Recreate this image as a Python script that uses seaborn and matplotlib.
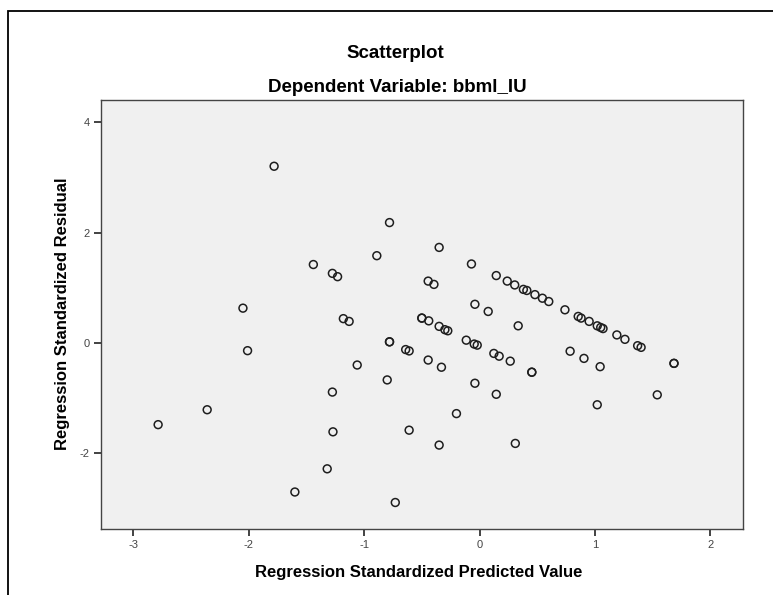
import matplotlib
matplotlib.use('Agg')
import matplotlib.pyplot as plt
import seaborn as sns
import pandas as pd
from matplotlib.patches import Rectangle

# Valores (resíduo padronizado x valor predito padronizado)
pred_padronizado = [
    -2.785, -2.36, -2.05, -2.01, -1.78, -1.60, -1.44, -1.32, -1.275, -1.275,
    -1.27, -1.23, -1.18, -1.13, -1.06, -0.89, -0.80, -0.78, -0.78, -0.78,
    -0.73, -0.64, -0.61, -0.61, -0.50, -0.50, -0.445, -0.44, -0.445, -0.395,
    -0.35, -0.35, -0.35, -0.33, -0.30, -0.275, -0.20, -0.115, -0.07, -0.046,
    -0.04, -0.04, -0.02, 0.075, 0.124, 0.145, 0.145, 0.17, 0.24, 0.266,
    0.305, 0.31, 0.335, 0.38, 0.41, 0.453, 0.453, 0.48, 0.545, 0.60,
    0.74, 0.785, 0.855, 0.88, 0.905, 0.95, 1.02, 1.02, 1.045, 1.05,
    1.07, 1.19, 1.26, 1.37, 1.40, 1.54, 1.685, 1.685,
]
residuo_padronizado = [
    -1.48, -1.21, 0.63, -0.14, 3.20, -2.70, 1.42, -2.28, 1.26, -0.89,
    -1.61, 1.20, 0.44, 0.39, -0.40, 1.58, -0.67, 2.18, 0.02, 0.02,
    -2.89, -0.12, -0.145, -1.58, 0.45, 0.45, 1.12, 0.40, -0.31, 1.06,
    1.73, 0.30, -1.85, -0.44, 0.24, 0.22, -1.28, 0.05, 1.43, -0.02,
    0.70, -0.73, -0.04, 0.57, -0.19, 1.22, -0.93, -0.24, 1.12, -0.33,
    1.05, -1.82, 0.31, 0.97, 0.95, -0.53, -0.53, 0.875, 0.81, 0.75,
    0.60, -0.15, 0.48, 0.45, -0.28, 0.39, 0.31, -1.12, -0.43, 0.28,
    0.26, 0.145, 0.065, -0.05, -0.08, -0.94, -0.37, -0.37,
]
x_ticks = [-3, -2, -1, 0, 1, 2]
y_ticks = [-2, 0, 2, 4]

df = pd.DataFrame({'pred': pred_padronizado, 'resid': residuo_padronizado})

sns.set_style('white')
plt.rcParams['font.family'] = ['Liberation Sans', 'DejaVu Sans']

fig = plt.figure(figsize=(7.73, 5.95), dpi=100)
ax = fig.add_axes([101 / 773, 66 / 595, 642 / 773, 429 / 595])
ax.set_facecolor('#f0f0f0')

sns.scatterplot(data=df, x='pred', y='resid', ax=ax, marker='o', s=32,
                facecolors='none', edgecolors='#1e1e1e', linewidth=1.1)

ax.set_xlim(-3.28, 2.283)
ax.set_ylim(-3.37, 4.40)
ax.set_xticks(x_ticks)
ax.set_yticks(y_ticks)
ax.set_xticklabels([str(t) for t in x_ticks])
ax.set_yticklabels([str(t) for t in y_ticks])
ax.tick_params(axis='both', direction='out', length=5, width=1.2, color='#222222',
               labelsize=8, labelcolor='#444444', pad=3)
ax.tick_params(top=False, right=False, bottom=True, left=True)
for sp in ax.spines.values():
    sp.set_color('#444444')
    sp.set_linewidth(1.0)

ax.set_xlabel('')
ax.set_ylabel('')

# Títulos e rótulos no estilo SPSS
fig.text(395 / 773, 1 - 54 / 595, 'Scatterplot', ha='center', va='center',
         fontsize=13.5, fontweight='bold', color='black')
fig.text(397 / 773, 1 - 88 / 595, 'Dependent Variable: bbml_IU', ha='center', va='center',
         fontsize=13.5, fontweight='bold', color='black')
fig.text(419 / 773, 1 - 572 / 595, 'Regression Standardized Predicted Value',
         ha='center', va='center', fontsize=12, fontweight='bold', color='black')
fig.text(63 / 773, 1 - 314 / 595, 'Regression Standardized Residual', ha='center',
         va='center', rotation=90, fontsize=12, fontweight='bold', color='black')

# Moldura externa (cortada à direita e embaixo)
fig.patches.append(Rectangle((8 / 773, -0.1), 1.2, 1.1 - 11 / 595,
                             transform=fig.transFigure, fill=False,
                             edgecolor='black', linewidth=1.3))

fig.savefig('out.png', dpi=100)
